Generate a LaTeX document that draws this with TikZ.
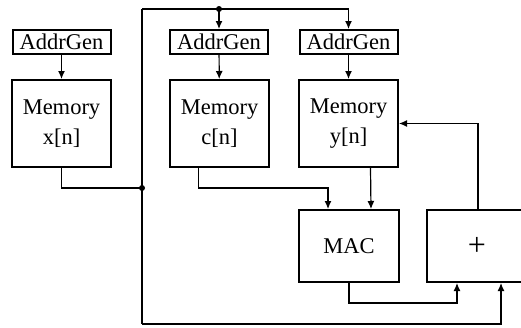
\documentclass[tikz,border=0pt]{standalone}
\usepackage{fontspec}
\setmainfont{Liberation Serif}
\usetikzlibrary{arrows.meta}

\begin{document}
\begin{tikzpicture}[x=1pt,y=-1pt,>={Latex[length=8pt,width=7pt]},
    font=\fontsize{22.5}{30}\selectfont,
    gen/.style={draw,line width=2pt,minimum width=98pt,minimum height=24pt,inner sep=0pt},
    mem/.style={draw,line width=2pt,minimum width=99pt,minimum height=87pt,inner sep=0pt,align=center},
    unit/.style={draw,line width=2pt,minimum width=100pt,minimum height=72pt,inner sep=0pt},
    wire/.style={line width=1.2pt}]

      \useasboundingbox (0,0) rectangle (521,327);
      \clip (0,0) rectangle (521,327);

      \node[gen] (agx) at (61.5,42) {AddrGen};
      \node[gen] (agc) at (219,42) {AddrGen};
      \node[gen] (agy) at (348.5,42) {AddrGen};

      \node[mem] (memx) at (61.5,123.5) {Memory\\x[n]};
      \node[mem] (memc) at (219.5,123.5) {Memory\\c[n]};
      \node[mem] (memy) at (348.5,123.5) {Memory\\y[n]};

      \node[unit] (mac) at (349,246) {MAC};
      \node[unit,font=\fontsize{32}{32}\selectfont] (add) at (477,246) {+};

      % junctions of the control loop
      \coordinate (top) at (142,9);
      \coordinate (tap) at (219,9);
      \coordinate (mid) at (142,188);
      \coordinate (bot) at (142,324);

      \draw[wire,->] (agx) -- (memx);
      \draw[wire,->] (agc) -- (memc);
      \draw[wire,->] (agy) -- (memy);

      \draw[wire] (memx.south) |- (mid);
      \draw[wire] (top) -- (bot);
      \draw[wire,->] (top) -| (agy.north);
      \draw[wire,->] (tap) -- (agc.north);
      \fill (tap) circle [radius=3];
      \fill (mid) circle [radius=3];

      \draw[wire,->] ([xshift=-21pt]memc.south) |- (220,188) -| ([xshift=-21pt]mac.north);
      \draw[wire,->] ([xshift=22pt]memy.south) -- ([xshift=22pt]mac.north);
      \draw[wire,->] ([xshift=1pt]add.north) |- (memy.east);
      \draw[wire,->] (mac.south) |- (400,303) -| ([xshift=-20pt]add.south);
      \draw[wire,->] (bot) -| ([xshift=24pt]add.south);
\end{tikzpicture}
\end{document}
